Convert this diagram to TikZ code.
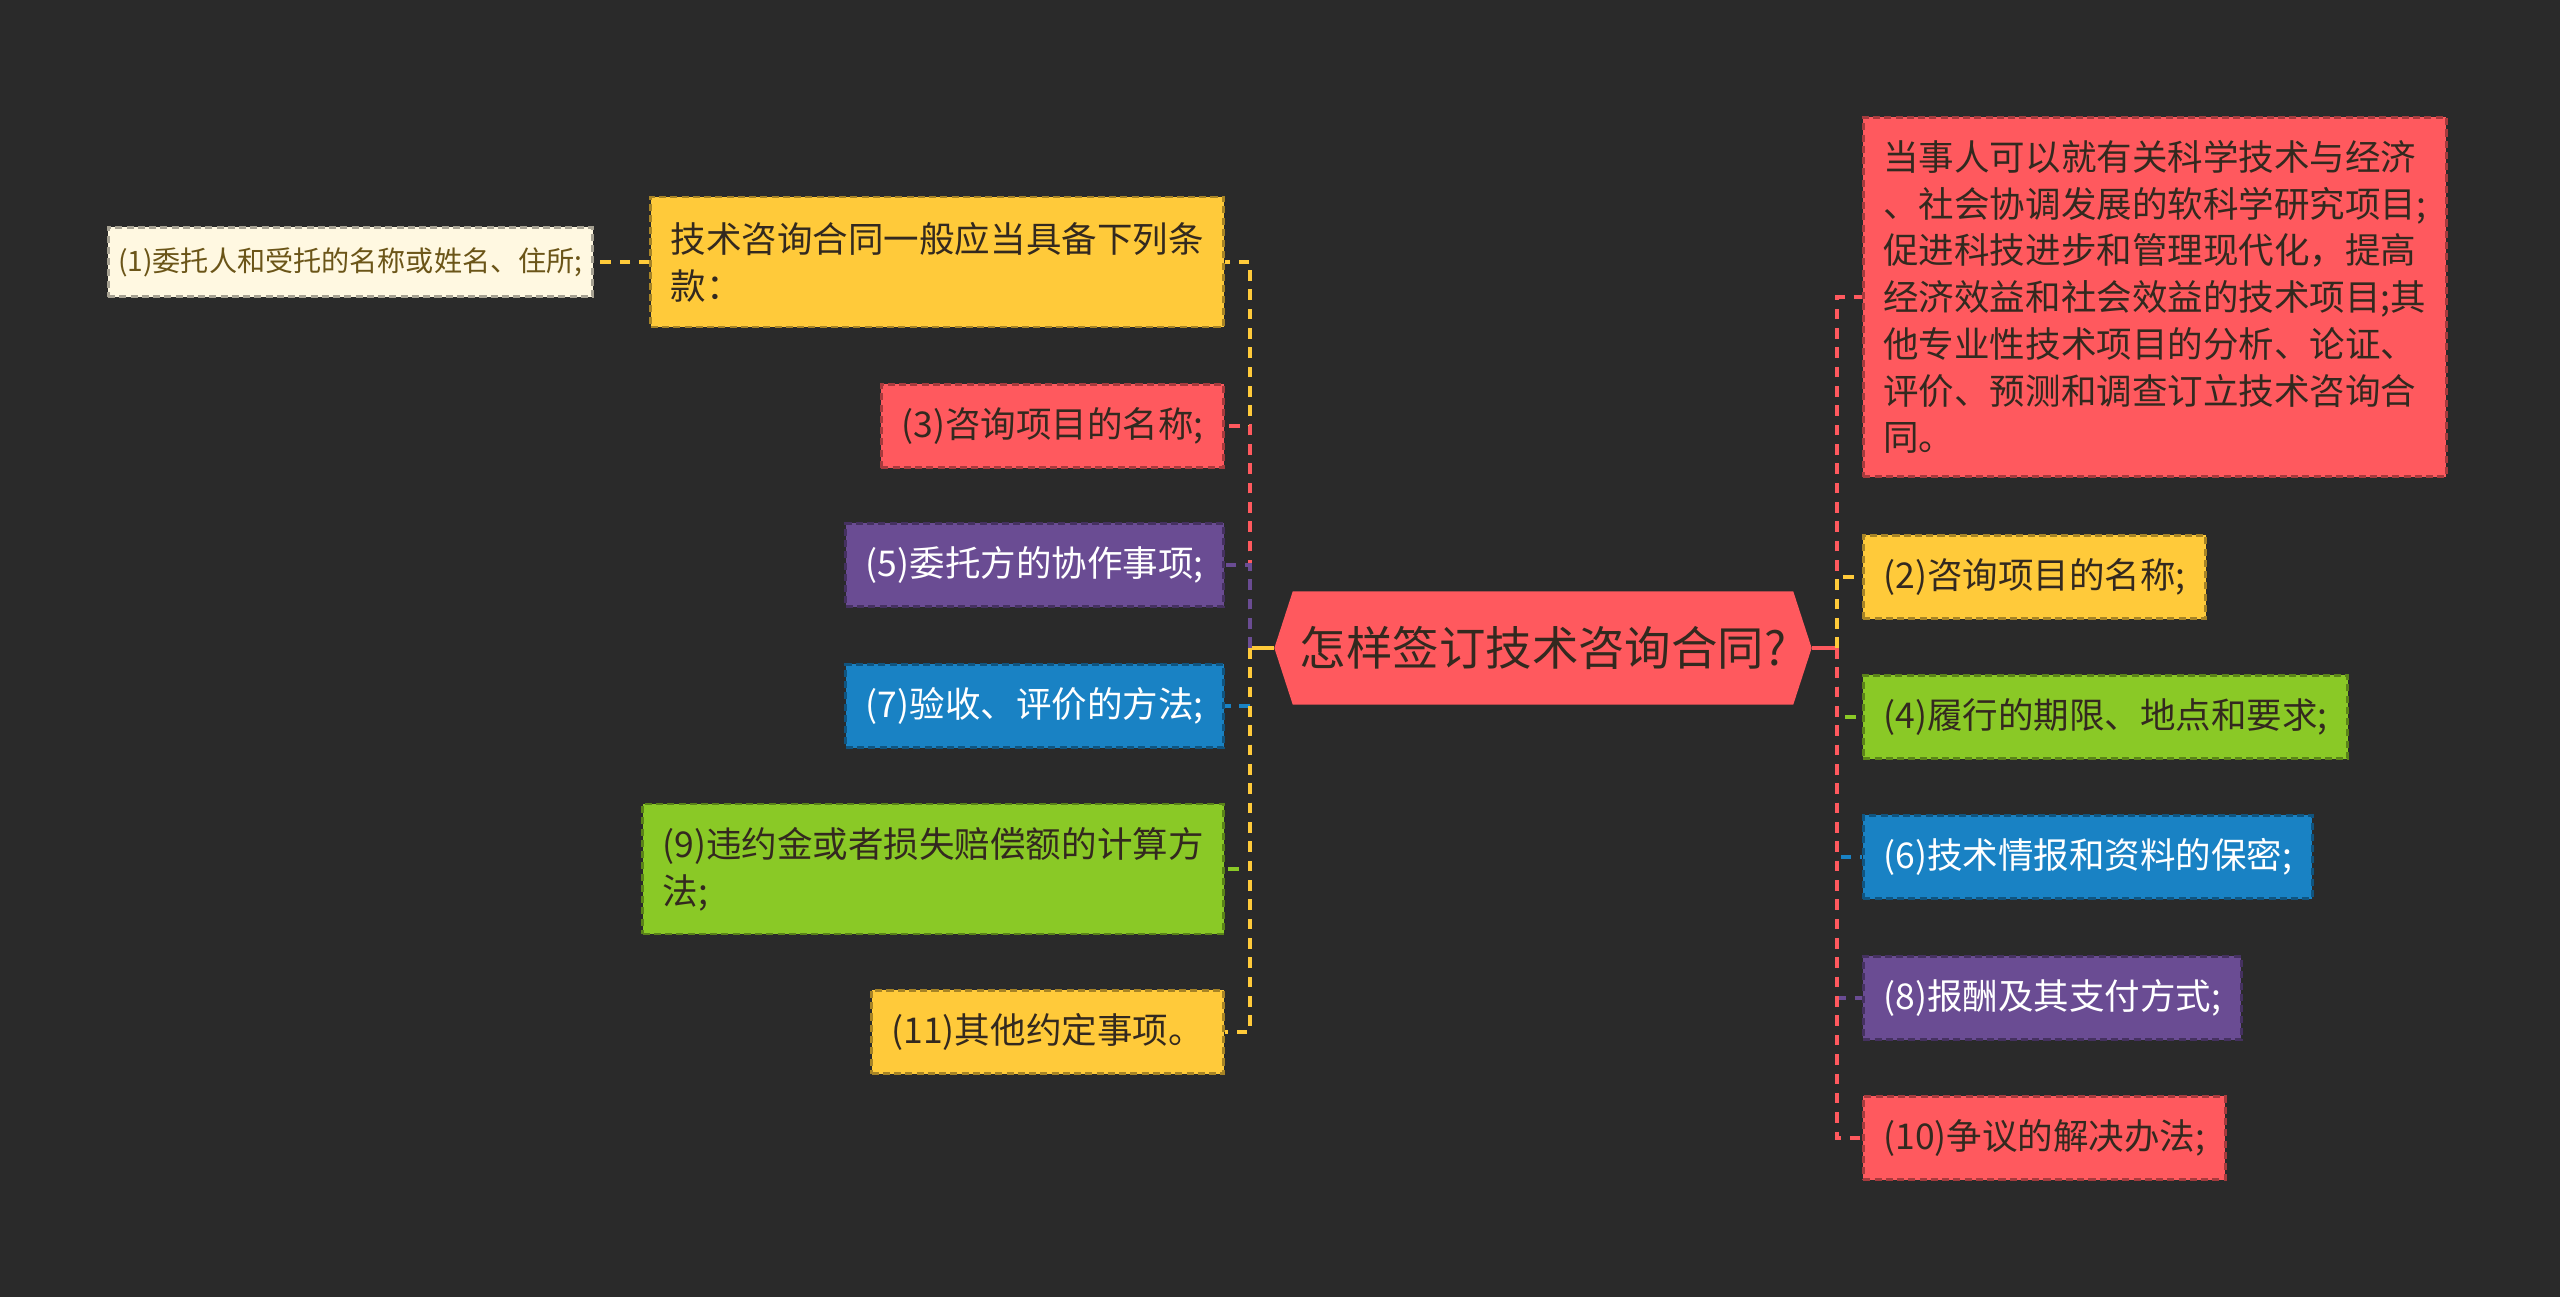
\documentclass[tikz,border=0pt]{standalone}
\usepackage{fontspec}
\usepackage{tikz}
\usetikzlibrary{shapes.symbols}
\newfontfamily\cjk{Noto Sans CJK SC}
\definecolor{cbg}{HTML}{2A2A2A}
\definecolor{cred}{HTML}{FF595E}
\definecolor{cyellow}{HTML}{FFCA3A}
\definecolor{cgreen}{HTML}{8AC926}
\definecolor{cblue}{HTML}{1982C4}
\definecolor{cpurple}{HTML}{6A4C93}
\definecolor{ccream}{HTML}{FFF8E1}
\definecolor{cink}{HTML}{33291F}
\definecolor{cbrown}{HTML}{6B5518}

\begin{document}
\begin{tikzpicture}[x=0.01cm,y=-0.01cm,
    leaf/.style={draw,dash pattern=on 2pt off 1.2pt,line width=0.8pt,inner xsep=0.2cm,inner ysep=0.2cm,
      minimum height=0.83cm,align=left,font=\cjk\fontsize{10.1}{13.3}\selectfont},
    twoline/.style={minimum height=1.3cm},
    yleaf/.style={leaf,fill=cyellow,draw=cyellow!65!black,text=cink},
    rleaf/.style={leaf,fill=cred,draw=cred!65!black,text=cink},
    gleaf/.style={leaf,fill=cgreen,draw=cgreen!65!black,text=cink},
    bleaf/.style={leaf,fill=cblue,draw=cblue!65!black,text=white},
    pleaf/.style={leaf,fill=cpurple,draw=cpurple!65!black,text=white},
    link/.style={line width=1.1pt,dash pattern=on 3pt off 2.5pt},
    rootlink/.style={line width=1.1pt}]
    % backdrop
    \fill[cbg] (0,0) rectangle (2560,1297);
    % central topic
    \node[signal,signal to=west and east,signal pointer angle=144,fill=cred,minimum width=5.37cm,
      minimum height=1.13cm,inner sep=0pt,text=cink,font=\cjk\fontsize{13.2}{15}\selectfont]
      (root) at (1543,648) {怎样签订技术咨询合同?};
    \coordinate (lt) at (1250,648);
    \coordinate (rt) at (1837,648);
    % left branch
    \node[yleaf,twoline,anchor=east] (n1) at (1225,262) {技术咨询合同一般应当具备下列条\\款：};
    \node[leaf,fill=ccream,draw=ccream!65!black,text=cbrown,inner xsep=0.1cm,minimum height=0.64cm,
      font=\cjk\fontsize{8}{10}\selectfont,anchor=east] (c1) at (594,262) {(1)委托人和受托的名称或姓名、住所;};
    \node[rleaf,anchor=east] (n3) at (1225,426) {(3)咨询项目的名称;};
    \node[pleaf,anchor=east] (n5) at (1225,565) {(5)委托方的协作事项;};
    \node[bleaf,anchor=east] (n7) at (1225,706) {(7)验收、评价的方法;};
    \node[gleaf,twoline,anchor=east] (n9) at (1225,869) {(9)违约金或者损失赔偿额的计算方\\法;};
    \node[yleaf,anchor=east] (n11) at (1225,1032) {(11)其他约定事项。};
    % right branch
    \node[rleaf,minimum height=3.59cm,anchor=west] (r1) at (1862,297) {当事人可以就有关科学技术与经济\\、社会协调发展的软科学研究项目;\\促进科技进步和管理现代化，提高\\经济效益和社会效益的技术项目;其\\他专业性技术项目的分析、论证、\\评价、预测和调查订立技术咨询合\\同。};
    \node[yleaf,anchor=west] (r2) at (1862,577) {(2)咨询项目的名称;};
    \node[gleaf,anchor=west] (r3) at (1862,717) {(4)履行的期限、地点和要求;};
    \node[bleaf,anchor=west] (r4) at (1862,857) {(6)技术情报和资料的保密;};
    \node[pleaf,anchor=west] (r5) at (1862,998) {(8)报酬及其支付方式;};
    \node[rleaf,anchor=west] (r6) at (1862,1138) {(10)争议的解决办法;};
    % connectors
    \draw[rootlink,cyellow] (root.west) -- (lt);
    \draw[rootlink,cred] (root.east) -- (rt);
    \draw[link,cyellow] (lt) |- (n1.east);
    \draw[link,cred] (lt) |- (n3.east);
    \draw[link,cpurple] (lt) |- (n5.east);
    \draw[link,cblue] (lt) |- (n7.east);
    \draw[link,cgreen] (lt) |- (n9.east);
    \draw[link,cyellow] (lt) |- (n11.east);
    \draw[link,cyellow] (n1.west) -- (c1.east);
    \draw[link,cred] (rt) |- (r1.west);
    \draw[link,cyellow] (rt) |- (r2.west);
    \draw[link,cgreen] (rt) |- (r3.west);
    \draw[link,cblue] (rt) |- (r4.west);
    \draw[link,cpurple] (rt) |- (r5.west);
    \draw[link,cred] (rt) |- (r6.west);
\end{tikzpicture}
\end{document}
